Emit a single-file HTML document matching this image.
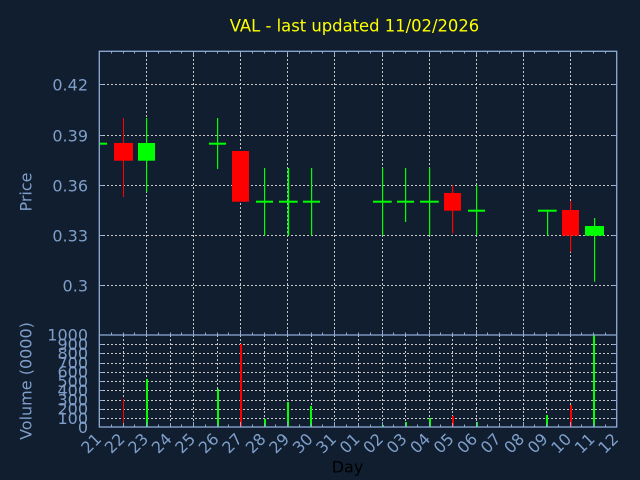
<!DOCTYPE html>
<html><head><meta charset="utf-8"><style>
html,body{margin:0;padding:0;background:#101e2f;}
svg{display:block;font-family:"DejaVu Sans","Liberation Sans",sans-serif;}
</style></head><body>
<svg width="640" height="480" viewBox="0 0 640 480" xmlns="http://www.w3.org/2000/svg">
<rect width="640" height="480" fill="#101e2f"/>
<text x="354.5" y="31.5" font-size="16.4" fill="#ffff00" text-anchor="middle">VAL - last updated 11/02/2026</text>

<!-- price grid -->
<g stroke="#c8c8c8" stroke-width="1" stroke-dasharray="2,2" fill="none">
<line x1="99" y1="84.5" x2="617" y2="84.5"/>
<line x1="99" y1="135.5" x2="617" y2="135.5"/>
<line x1="99" y1="185.5" x2="617" y2="185.5"/>
<line x1="99" y1="235.5" x2="617" y2="235.5"/>
<line x1="99" y1="285.5" x2="617" y2="285.5"/>
<line x1="146.5" y1="51" x2="146.5" y2="335"/>
<line x1="193.5" y1="51" x2="193.5" y2="335"/>
<line x1="240.5" y1="51" x2="240.5" y2="335"/>
<line x1="287.5" y1="51" x2="287.5" y2="335"/>
<line x1="334.5" y1="51" x2="334.5" y2="335"/>
<line x1="382.5" y1="51" x2="382.5" y2="335"/>
<line x1="429.5" y1="51" x2="429.5" y2="335"/>
<line x1="476.5" y1="51" x2="476.5" y2="335"/>
<line x1="523.5" y1="51" x2="523.5" y2="335"/>
<line x1="570.5" y1="51" x2="570.5" y2="335"/>
</g>

<!-- volume grid -->
<g stroke="#c8c8c8" stroke-width="1" stroke-dasharray="2,2" fill="none">
<line x1="99" y1="344.5" x2="617" y2="344.5"/>
<line x1="99" y1="353.5" x2="617" y2="353.5"/>
<line x1="99" y1="363.5" x2="617" y2="363.5"/>
<line x1="99" y1="372.5" x2="617" y2="372.5"/>
<line x1="99" y1="381.5" x2="617" y2="381.5"/>
<line x1="99" y1="390.5" x2="617" y2="390.5"/>
<line x1="99" y1="400.5" x2="617" y2="400.5"/>
<line x1="99" y1="409.5" x2="617" y2="409.5"/>
<line x1="99" y1="418.5" x2="617" y2="418.5"/>
<line x1="123.5" y1="335" x2="123.5" y2="427"/>
<line x1="146.5" y1="335" x2="146.5" y2="427"/>
<line x1="170.5" y1="335" x2="170.5" y2="427"/>
<line x1="193.5" y1="335" x2="193.5" y2="427"/>
<line x1="217.5" y1="335" x2="217.5" y2="427"/>
<line x1="240.5" y1="335" x2="240.5" y2="427"/>
<line x1="264.5" y1="335" x2="264.5" y2="427"/>
<line x1="287.5" y1="335" x2="287.5" y2="427"/>
<line x1="311.5" y1="335" x2="311.5" y2="427"/>
<line x1="334.5" y1="335" x2="334.5" y2="427"/>
<line x1="358.5" y1="335" x2="358.5" y2="427"/>
<line x1="382.5" y1="335" x2="382.5" y2="427"/>
<line x1="405.5" y1="335" x2="405.5" y2="427"/>
<line x1="429.5" y1="335" x2="429.5" y2="427"/>
<line x1="452.5" y1="335" x2="452.5" y2="427"/>
<line x1="476.5" y1="335" x2="476.5" y2="427"/>
<line x1="499.5" y1="335" x2="499.5" y2="427"/>
<line x1="523.5" y1="335" x2="523.5" y2="427"/>
<line x1="546.5" y1="335" x2="546.5" y2="427"/>
<line x1="570.5" y1="335" x2="570.5" y2="427"/>
<line x1="593.5" y1="335" x2="593.5" y2="427"/>
</g>

<!-- candles -->
<g>
<rect x="99" y="142.7" width="8" height="2" fill="#00ff00"/>
<rect x="123" y="118" width="1" height="79" fill="#ff0000"/>
<rect x="114" y="143" width="19" height="17.7" fill="#ff0000"/>
<rect x="146" y="118" width="1.2" height="74" fill="#00ff00"/>
<rect x="138" y="143" width="17" height="17.7" fill="#00ff00"/>
<rect x="217" y="118" width="1.2" height="51" fill="#00ff00"/>
<rect x="209" y="142.7" width="17" height="2" fill="#00ff00"/>
<rect x="232" y="151" width="17" height="50.7" fill="#ff0000"/>
<rect x="264" y="168" width="1.2" height="67.5" fill="#00ff00"/>
<rect x="256" y="200.7" width="17" height="2" fill="#00ff00"/>
<rect x="287.6" y="168" width="1.6" height="67.5" fill="#00ff00"/>
<rect x="279" y="200.7" width="18.7" height="2" fill="#00ff00"/>
<rect x="311" y="168" width="1.2" height="67.5" fill="#00ff00"/>
<rect x="303" y="200.7" width="17" height="2" fill="#00ff00"/>
<rect x="382" y="168" width="1.2" height="67.5" fill="#00ff00"/>
<rect x="373" y="200.7" width="18.7" height="2" fill="#00ff00"/>
<rect x="405" y="168" width="1.2" height="54" fill="#00ff00"/>
<rect x="397" y="200.7" width="17" height="2" fill="#00ff00"/>
<rect x="429" y="168" width="1.2" height="67.5" fill="#00ff00"/>
<rect x="420" y="200.7" width="18.7" height="2" fill="#00ff00"/>
<rect x="452" y="185.3" width="1.2" height="48" fill="#ff0000"/>
<rect x="444" y="193" width="17" height="17.7" fill="#ff0000"/>
<rect x="476" y="185.3" width="1.2" height="50" fill="#00ff00"/>
<rect x="468" y="209.7" width="17" height="2" fill="#00ff00"/>
<rect x="547" y="210.7" width="1.2" height="24.7" fill="#00ff00"/>
<rect x="538" y="209.7" width="18.7" height="2" fill="#00ff00"/>
<rect x="570" y="201.3" width="1.2" height="50.4" fill="#ff0000"/>
<rect x="562" y="210" width="17" height="25.7" fill="#ff0000"/>
<rect x="594" y="218" width="1.2" height="63.7" fill="#00ff00"/>
<rect x="585" y="226" width="19" height="9.7" fill="#00ff00"/>
</g>

<!-- volume bars -->
<g>
<rect x="123" y="399" width="1" height="28" fill="#ff0000"/>
<rect x="146" y="379" width="2" height="48" fill="#00ff00"/>
<rect x="217" y="389" width="2" height="38" fill="#00ff00"/>
<rect x="240" y="344" width="2" height="83" fill="#ff0000"/>
<rect x="264" y="419" width="2" height="8" fill="#00ff00"/>
<rect x="287" y="402" width="2" height="25" fill="#00ff00"/>
<rect x="310" y="406" width="2" height="21" fill="#00ff00"/>
<rect x="382" y="425" width="2" height="2" fill="#00ff00"/>
<rect x="405" y="422" width="2" height="5" fill="#00ff00"/>
<rect x="429" y="418" width="2" height="9" fill="#00ff00"/>
<rect x="452" y="416" width="2" height="11" fill="#ff0000"/>
<rect x="476" y="422" width="2" height="5" fill="#00ff00"/>
<rect x="546" y="415" width="2" height="12" fill="#00ff00"/>
<rect x="570" y="405" width="2" height="22" fill="#ff0000"/>
<rect x="593" y="335" width="2" height="92" fill="#00ff00"/>
</g>

<!-- axes -->
<g stroke="#8eacd6" stroke-width="1.3" fill="none">
<rect x="99.3" y="51.3" width="517.4" height="375.7"/>
<line x1="99" y1="335" x2="617" y2="335"/>
</g>
<g stroke="#8eacd6" stroke-width="1" fill="none">
<path d="M99 84.5h4M99 135.5h4M99 185.5h4M99 235.5h4M99 285.5h4M617 84.5h-5M617 135.5h-5M617 185.5h-5M617 235.5h-5M617 285.5h-5"/>
<path d="M99 344.5h4M99 353.5h4M99 363.5h4M99 372.5h4M99 381.5h4M99 390.5h4M99 400.5h4M99 409.5h4M99 418.5h4M617 344.5h-5M617 353.5h-5M617 363.5h-5M617 372.5h-5M617 381.5h-5M617 390.5h-5M617 400.5h-5M617 409.5h-5M617 418.5h-5"/>
<path d="M111.5 51v2.5M123.5 51v2.5M134.5 51v2.5M146.5 51v4M158.5 51v2.5M170.5 51v2.5M181.5 51v2.5M193.5 51v4M205.5 51v2.5M217.5 51v2.5M228.5 51v2.5M240.5 51v4M252.5 51v2.5M264.5 51v2.5M275.5 51v2.5M287.5 51v4M299.5 51v2.5M311.5 51v2.5M322.5 51v2.5M334.5 51v4M346.5 51v2.5M358.5 51v2.5M370.5 51v2.5M382.5 51v4M393.5 51v2.5M405.5 51v2.5M417.5 51v2.5M429.5 51v4M440.5 51v2.5M452.5 51v2.5M464.5 51v2.5M476.5 51v4M487.5 51v2.5M499.5 51v2.5M511.5 51v2.5M523.5 51v4M534.5 51v2.5M546.5 51v2.5M558.5 51v2.5M570.5 51v4M581.5 51v2.5M593.5 51v2.5M605.5 51v2.5"/>
<path d="M111.5 335v-2.5M123.5 335v-2.5M134.5 335v-2.5M146.5 335v-5M158.5 335v-2.5M170.5 335v-2.5M181.5 335v-2.5M193.5 335v-5M205.5 335v-2.5M217.5 335v-2.5M228.5 335v-2.5M240.5 335v-5M252.5 335v-2.5M264.5 335v-2.5M275.5 335v-2.5M287.5 335v-5M299.5 335v-2.5M311.5 335v-2.5M322.5 335v-2.5M334.5 335v-5M346.5 335v-2.5M358.5 335v-2.5M370.5 335v-2.5M382.5 335v-5M393.5 335v-2.5M405.5 335v-2.5M417.5 335v-2.5M429.5 335v-5M440.5 335v-2.5M452.5 335v-2.5M464.5 335v-2.5M476.5 335v-5M487.5 335v-2.5M499.5 335v-2.5M511.5 335v-2.5M523.5 335v-5M534.5 335v-2.5M546.5 335v-2.5M558.5 335v-2.5M570.5 335v-5M581.5 335v-2.5M593.5 335v-2.5M605.5 335v-2.5"/>
<path d="M111.5 427v-2.5M123.5 427v-4M134.5 427v-2.5M146.5 427v-5M158.5 427v-2.5M170.5 427v-4M181.5 427v-2.5M193.5 427v-5M205.5 427v-2.5M217.5 427v-4M228.5 427v-2.5M240.5 427v-5M252.5 427v-2.5M264.5 427v-4M275.5 427v-2.5M287.5 427v-5M299.5 427v-2.5M311.5 427v-4M322.5 427v-2.5M334.5 427v-5M346.5 427v-2.5M358.5 427v-4M370.5 427v-2.5M382.5 427v-5M393.5 427v-2.5M405.5 427v-4M417.5 427v-2.5M429.5 427v-5M440.5 427v-2.5M452.5 427v-4M464.5 427v-2.5M476.5 427v-5M487.5 427v-2.5M499.5 427v-4M511.5 427v-2.5M523.5 427v-5M534.5 427v-2.5M546.5 427v-4M558.5 427v-2.5M570.5 427v-5M581.5 427v-2.5M593.5 427v-4M605.5 427v-2.5"/>
</g>

<g font-size="16" fill="#7f9fca" text-anchor="end">
<text x="88" y="90.3">0.42</text>
<text x="88" y="141.3">0.39</text>
<text x="88" y="191.3">0.36</text>
<text x="88" y="241.3">0.33</text>
<text x="88" y="291.3">0.3</text>
</g>
<g font-size="16" fill="#7f9fca" text-anchor="end">
<text x="88" y="340.5">1000</text>
<text x="88" y="349.8">900</text>
<text x="88" y="359">800</text>
<text x="88" y="368.3">700</text>
<text x="88" y="377.5">600</text>
<text x="88" y="386.8">500</text>
<text x="88" y="396">400</text>
<text x="88" y="405.3">300</text>
<text x="88" y="414.5">200</text>
<text x="88" y="423.8">100</text>
<text x="88" y="433">0</text>
</g>

<text transform="translate(31.5,192) rotate(-90)" font-size="16" fill="#7f9fca" text-anchor="middle">Price</text>
<text transform="translate(31.5,381) rotate(-90)" font-size="16" fill="#7f9fca" text-anchor="middle">Volume (0000)</text>
<text x="347.5" y="472.5" font-size="16" fill="#000000" text-anchor="middle">Day</text>

<g font-size="16" fill="#7f9fca" text-anchor="end">
<text transform="translate(102.3,440) rotate(-45)">21</text>
<text transform="translate(125.8,440) rotate(-45)">22</text>
<text transform="translate(149.3,440) rotate(-45)">23</text>
<text transform="translate(172.8,440) rotate(-45)">24</text>
<text transform="translate(196.3,440) rotate(-45)">25</text>
<text transform="translate(219.8,440) rotate(-45)">26</text>
<text transform="translate(243.3,440) rotate(-45)">27</text>
<text transform="translate(266.8,440) rotate(-45)">28</text>
<text transform="translate(290.3,440) rotate(-45)">29</text>
<text transform="translate(313.8,440) rotate(-45)">30</text>
<text transform="translate(337.3,440) rotate(-45)">31</text>
<text transform="translate(360.8,440) rotate(-45)">01</text>
<text transform="translate(384.3,440) rotate(-45)">02</text>
<text transform="translate(407.8,440) rotate(-45)">03</text>
<text transform="translate(431.3,440) rotate(-45)">04</text>
<text transform="translate(454.8,440) rotate(-45)">05</text>
<text transform="translate(478.3,440) rotate(-45)">06</text>
<text transform="translate(501.8,440) rotate(-45)">07</text>
<text transform="translate(525.3,440) rotate(-45)">08</text>
<text transform="translate(548.8,440) rotate(-45)">09</text>
<text transform="translate(572.3,440) rotate(-45)">10</text>
<text transform="translate(595.8,440) rotate(-45)">11</text>
<text transform="translate(619.3,440) rotate(-45)">12</text>
</g>
</svg>
</body></html>
